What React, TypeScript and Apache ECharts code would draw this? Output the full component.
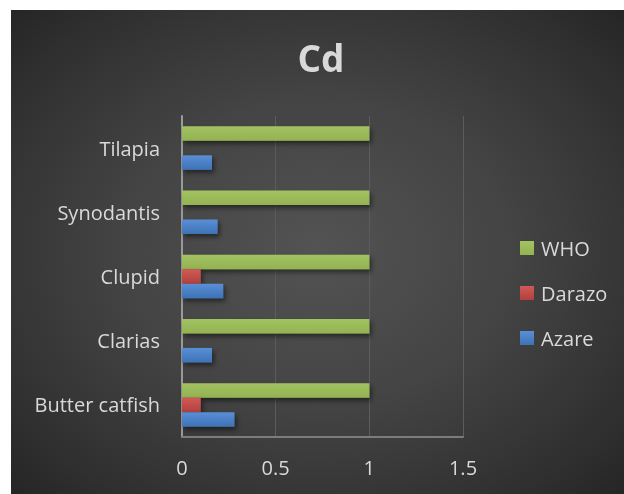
import React, { useEffect, useRef } from "react";
import * as echarts from "echarts";

// Cadmium levels per fish species, with the WHO limit
const categories = ["Butter catfish", "Clarias", "Clupid", "Synodantis", "Tilapia"];
const azare = [0.28, 0.16, 0.22, 0.19, 0.16];
const darazo = [0.1, 0, 0.1, 0, 0];
const who = [1, 1, 1, 1, 1];
const xTicks = [0, 0.5, 1, 1.5];

const FONT = "'Open Sans', 'Noto Sans', sans-serif";
const LABEL = "#d9d9d9";

const barShadow = {
  shadowColor: "rgba(0,0,0,0.5)",
  shadowBlur: 5,
  shadowOffsetX: 2,
  shadowOffsetY: 3,
};

function vGrad(top: string, bottom: string) {
  return new echarts.graphic.LinearGradient(0, 0, 0, 1, [
    { offset: 0, color: top },
    { offset: 1, color: bottom },
  ]);
}

export default function App() {
  const ref = useRef<HTMLDivElement>(null);

  useEffect(() => {
    if (!ref.current) return;
    const chart = echarts.init(ref.current, null, { renderer: "svg" });
    chart.setOption({
      animation: false,
      title: {
        text: "Cd",
        left: 305,
        textAlign: "center",
        top: 24,
        textStyle: { color: LABEL, fontFamily: FONT, fontWeight: "bold", fontSize: 37 },
      },
      legend: {
        orient: "vertical",
        left: 504,
        top: 223,
        data: ["WHO", "Darazo", "Azare"],
        icon: "rect",
        itemWidth: 14,
        itemHeight: 14,
        itemGap: 25,
        textStyle: { color: LABEL, fontFamily: FONT, fontSize: 20, lineHeight: 20, padding: [0, 0, 0, 2] },
      },
      grid: { left: 171, right: 161, top: 106, bottom: 57, containLabel: false },
      xAxis: {
        type: "value",
        min: xTicks[0],
        max: xTicks[xTicks.length - 1],
        interval: 0.5,
        axisLine: { show: true, lineStyle: { color: "#7c7c7c", width: 2 } },
        axisTick: { show: false },
        axisLabel: { color: LABEL, fontFamily: FONT, fontSize: 20, margin: 20 },
        splitLine: { show: true, lineStyle: { color: "#5c5c5c", width: 1 } },
      },
      yAxis: {
        type: "category",
        data: categories,
        axisLine: { show: true, lineStyle: { color: "#9a9a9a", width: 2 } },
        axisTick: { show: false },
        axisLabel: { color: LABEL, fontFamily: FONT, fontSize: 20, margin: 22 },
        splitLine: { show: false },
      },
      series: [
        {
          name: "WHO",
          type: "bar",
          data: who,
          barWidth: 14.5,
          barGap: "0%",
          itemStyle: { color: vGrad("#a3c262", "#93b352"), ...barShadow },
        },
        {
          name: "Darazo",
          type: "bar",
          data: darazo,
          barWidth: 14.5,
          barGap: "0%",
          itemStyle: { color: vGrad("#d05a57", "#b2403d"), ...barShadow },
        },
        {
          name: "Azare",
          type: "bar",
          data: azare,
          barWidth: 14.5,
          barGap: "0%",
          itemStyle: { color: vGrad("#5a8fd6", "#3e72b6"), ...barShadow },
        },
      ],
    });
    return () => chart.dispose();
  }, []);

  return (
    <div
      ref={ref}
      style={{
        position: "fixed",
        left: 11,
        top: 10,
        width: 613,
        height: 484,
        background:
          "radial-gradient(ellipse 70% 70% at 50% 50%, #535353 0%, #444444 45%, #2f2f2f 85%, #262626 100%)",
      }}
    />
  );
}
